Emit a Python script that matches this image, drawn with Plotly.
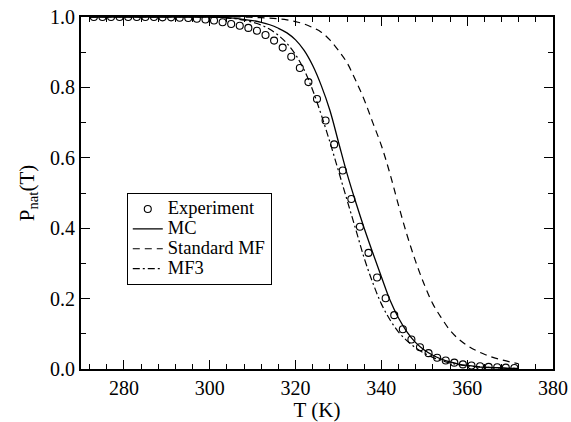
import plotly.graph_objects as go

# Experimental points
exp_T = [273, 275, 277, 279, 281, 283, 285, 287, 289, 291, 293, 295, 297, 299,
         301, 303, 305, 307, 309, 311, 313, 315, 317, 319, 321, 323, 325, 327,
         329, 331, 333, 335, 337, 339, 341, 343, 345, 347, 349, 351, 353, 355,
         357, 359, 361, 363, 365, 367, 369, 371]
exp_P = [1.0, 1.0, 1.0, 1.0, 1.0, 1.0, 1.0, 1.0, 0.999, 0.999, 0.998, 0.997, 0.995, 0.993,
         0.990, 0.985, 0.980, 0.975, 0.969, 0.961, 0.949, 0.933, 0.913, 0.887, 0.855, 0.815,
         0.767, 0.706, 0.638, 0.564, 0.483, 0.404, 0.330, 0.260, 0.201, 0.153, 0.113, 0.084,
         0.062, 0.045, 0.032, 0.024, 0.018, 0.013, 0.010, 0.008, 0.006, 0.005, 0.004, 0.003]

# Model curves sampled on a common temperature grid
curve_T = [272, 274, 276, 278, 280, 282, 284, 286, 288, 290, 292, 294, 296, 298,
           300, 302, 304, 306, 308, 310, 312, 314, 316, 318, 320, 322, 324, 326,
           328, 330, 332, 334, 336, 338, 340, 342, 344, 346, 348, 350, 352, 354,
           356, 358, 360, 362, 364, 366, 368, 370, 372]
mc_P = [1.0, 1.0, 1.0, 1.0, 1.0, 1.0, 1.0, 1.0, 1.0, 1.0, 1.0, 1.0, 1.0, 1.0,
        1.0, 0.999, 0.998, 0.996, 0.993, 0.990, 0.985, 0.978, 0.968, 0.955, 0.935, 0.905,
        0.862, 0.805, 0.735, 0.645, 0.555, 0.475, 0.400, 0.330, 0.262, 0.196, 0.145, 0.105,
        0.075, 0.054, 0.039, 0.028, 0.020, 0.014, 0.010, 0.007, 0.005, 0.004, 0.003, 0.002, 0.0015]
smf_P = [1.0, 1.0, 1.0, 1.0, 1.0, 1.0, 1.0, 1.0, 1.0, 1.0, 1.0, 1.0, 1.0, 1.0,
         1.0, 1.0, 1.0, 1.0, 1.0, 0.999, 0.998, 0.997, 0.995, 0.992, 0.987, 0.980,
         0.970, 0.957, 0.935, 0.905, 0.870, 0.820, 0.765, 0.700, 0.635, 0.555, 0.465, 0.380,
         0.305, 0.240, 0.185, 0.145, 0.110, 0.085, 0.067, 0.053, 0.042, 0.033, 0.026, 0.020, 0.015]
mf3_P = [1.0, 1.0, 1.0, 1.0, 1.0, 1.0, 1.0, 1.0, 1.0, 1.0, 1.0, 1.0, 1.0, 1.0,
         1.0, 0.999, 0.997, 0.995, 0.991, 0.985, 0.977, 0.965, 0.948, 0.925, 0.893, 0.850,
         0.792, 0.722, 0.645, 0.563, 0.480, 0.398, 0.315, 0.245, 0.185, 0.140, 0.105, 0.080,
         0.060, 0.045, 0.033, 0.024, 0.017, 0.012, 0.009, 0.007, 0.005, 0.004, 0.003, 0.002, 0.0015]

series_names = ["Experiment", "MC", "Standard MF", "MF3"]

x_ticks = [280, 300, 320, 340, 360, 380]
y_ticks = [0.0, 0.2, 0.4, 0.6, 0.8, 1.0]

FONT = "Liberation Serif"


def legend_label(s):
    return f'<span style="font-size:18.5px">{s}</span>'


fig = go.Figure()
fig.add_trace(go.Scatter(
    x=exp_T, y=exp_P, mode="markers", name=legend_label(series_names[0]),
    marker=dict(symbol="circle-open", size=7, color="black", line=dict(width=1.1)),
))
fig.add_trace(go.Scatter(
    x=curve_T, y=mc_P, mode="lines", name=legend_label(series_names[1]), line_shape="spline",
    line=dict(color="black", width=1.3),
))
fig.add_trace(go.Scatter(
    x=curve_T, y=smf_P, mode="lines", name=legend_label(series_names[2]), line_shape="spline",
    line=dict(color="black", width=1.2, dash="7px,5px"),
))
fig.add_trace(go.Scatter(
    x=curve_T, y=mf3_P, mode="lines", name=legend_label(series_names[3]), line_shape="spline",
    line=dict(color="black", width=1.2, dash="7px,3px,2px,3px"),
))

axis_common = dict(
    showgrid=False, zeroline=False, showline=True, linecolor="black", linewidth=2,
    mirror="allticks", ticks="inside", ticklen=9, tickwidth=1.3, tickcolor="black",
    tickfont=dict(family=FONT, size=20, color="black"), automargin=False,
)

fig.update_xaxes(
    range=[270, 380], tickvals=x_ticks, ticktext=[str(v) for v in x_ticks],
    minor=dict(ticks="inside", ticklen=5, tickwidth=1.1, tickcolor="black", dtick=4, tick0=272),
    title=dict(text="T (K)", font=dict(family=FONT, size=21, color="black"), standoff=5),
    **axis_common,
)
fig.update_yaxes(
    range=[0, 1.0], tickvals=y_ticks, ticktext=[f"{v:.1f}" for v in y_ticks],
    minor=dict(ticks="inside", ticklen=5, tickwidth=1.1, tickcolor="black", dtick=0.1, tick0=0),
    title=dict(text="P<sub>nat</sub>(T)", font=dict(family=FONT, size=21, color="black"), standoff=10),
    **axis_common,
)

fig.update_layout(
    width=571, height=422,
    margin=dict(l=81, r=18, t=17, b=53),
    paper_bgcolor="white", plot_bgcolor="white",
    font=dict(family=FONT, color="black"),
    showlegend=True,
    legend=dict(
        x=0.097, y=0.5, xanchor="left", yanchor="top",
        bgcolor="white", bordercolor="black", borderwidth=1,
        font=dict(family=FONT, size=13, color="black"),
        itemwidth=30, tracegroupgap=0,
    ),
)

fig.write_html(
    "out.html",
    config={"displayModeBar": False},
    post_script="document.body.style.margin='0';document.body.style.overflow='hidden';",
)
